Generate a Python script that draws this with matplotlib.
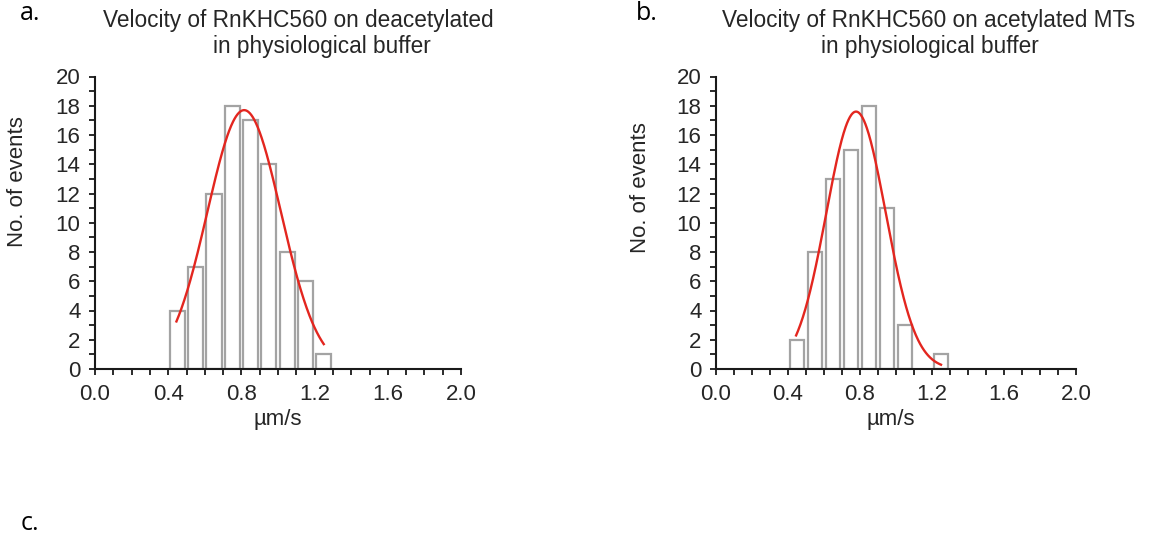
import numpy as np
import matplotlib
matplotlib.use("Agg")
import matplotlib.pyplot as plt
from matplotlib.ticker import MultipleLocator

plt.rcParams['font.family'] = ['Liberation Sans', 'DejaVu Sans']

# ---- data ----
bin_centers = [0.45, 0.55, 0.65, 0.75, 0.85, 0.95, 1.05, 1.15, 1.25]
counts_deacetylated = [4, 7, 12, 18, 17, 14, 8, 6, 1]
counts_acetylated = [2, 8, 13, 15, 18, 11, 3, 0, 1]

# Gaussian fit parameters (amplitude, mean, sigma)
fit_deacetylated = (17.7, 0.815, 0.201)
fit_acetylated = (17.6, 0.778, 0.165)
fit_range = (0.445, 1.25)

title_line1 = ["Velocity of RnKHC560 on deacetylated",
               "Velocity of RnKHC560 on acetylated MTs"]
title_line2 = "in physiological buffer"
xlabel = "µm/s"
ylabel = "No. of events"
panel_letters = ["a.", "b.", "c."]

W, H = 1152, 535
fig = plt.figure(figsize=(W / 100, H / 100), dpi=100)

def px(x, y):
    return x / W, 1 - y / H

FS = 16
FST = 16.3
TXT = '#262626'

panels = [
    dict(left=95, right=461, counts=counts_deacetylated, fit=fit_deacetylated,
         t1=(103, 'left'), t2x=322, ylab_x=18, ylab_y=182, xlab_x=278),
    dict(left=716, right=1076, counts=counts_acetylated, fit=fit_acetylated,
         t1=(929, 'center'), t2x=930, ylab_x=640, ylab_y=188, xlab_x=891),
]
top, bottom = 76.5, 369

for i, p in enumerate(panels):
    l = p['left'] / W
    b = 1 - bottom / H
    w = (p['right'] - p['left']) / W
    h = (bottom - top) / H
    ax = fig.add_axes([l, b, w, h])
    nonzero = [(c, v) for c, v in zip(bin_centers, p['counts']) if v > 0]
    ax.bar([c for c, v in nonzero], [v for c, v in nonzero], width=0.083,
           facecolor='white', edgecolor='#a3a3a3', linewidth=1.6, zorder=2)
    amp, mu, sig = p['fit']
    xs = np.linspace(fit_range[0], fit_range[1], 300)
    ax.plot(xs, amp * np.exp(-(xs - mu) ** 2 / (2 * sig ** 2)),
            color='#e3261f', linewidth=1.7, zorder=3)
    ax.set_xlim(0, 2.0)
    ax.set_ylim(0, 20)
    ax.xaxis.set_minor_locator(MultipleLocator(0.1))
    ax.yaxis.set_major_locator(MultipleLocator(2))
    ax.yaxis.set_minor_locator(MultipleLocator(1))
    ax.set_xticks(np.arange(0, 2.01, 0.4))
    ax.set_xticklabels([f"{v:.1f}" for v in np.arange(0, 2.01, 0.4)])
    for s in ['top', 'right']:
        ax.spines[s].set_visible(False)
    for s in ['left', 'bottom']:
        ax.spines[s].set_linewidth(1.5)
        ax.spines[s].set_color('#1a1a1a')
    ax.tick_params(which='both', direction='out', length=4, width=1.3,
                   color='#1a1a1a', labelsize=FS, labelcolor=TXT)
    ax.tick_params(axis='y', which='both', pad=6.5)
    ax.tick_params(axis='x', which='both', pad=7)
    ax.patch.set_alpha(0)

    tx, ty = px(p['t1'][0], 20)
    fig.text(tx, ty, title_line1[i], ha=p['t1'][1], va='center', fontsize=FST,
             color=TXT)
    tx, ty = px(p['t2x'], 47)
    fig.text(tx, ty, title_line2, ha='center', va='center', fontsize=FST,
             color=TXT)
    yx, yy = px(p['ylab_x'], p['ylab_y'])
    fig.text(yx, yy, ylabel, rotation=90, ha='center', va='center',
             fontsize=FS, color=TXT)
    xx, xy = px(p['xlab_x'], 419)
    fig.text(xx, xy, xlabel, ha='center', va='center', fontsize=FS,
             color=TXT)

for letter, (lx, ly) in zip(panel_letters, [(30, 13), (647, 13), (30, 523)]):
    fx, fy = px(lx, ly)
    fig.text(fx, fy, letter, ha='center', va='center', fontsize=18,
             family=['Open Sans', 'DejaVu Sans'], color='black')

fig.savefig("out.png", dpi=100, facecolor='white')
